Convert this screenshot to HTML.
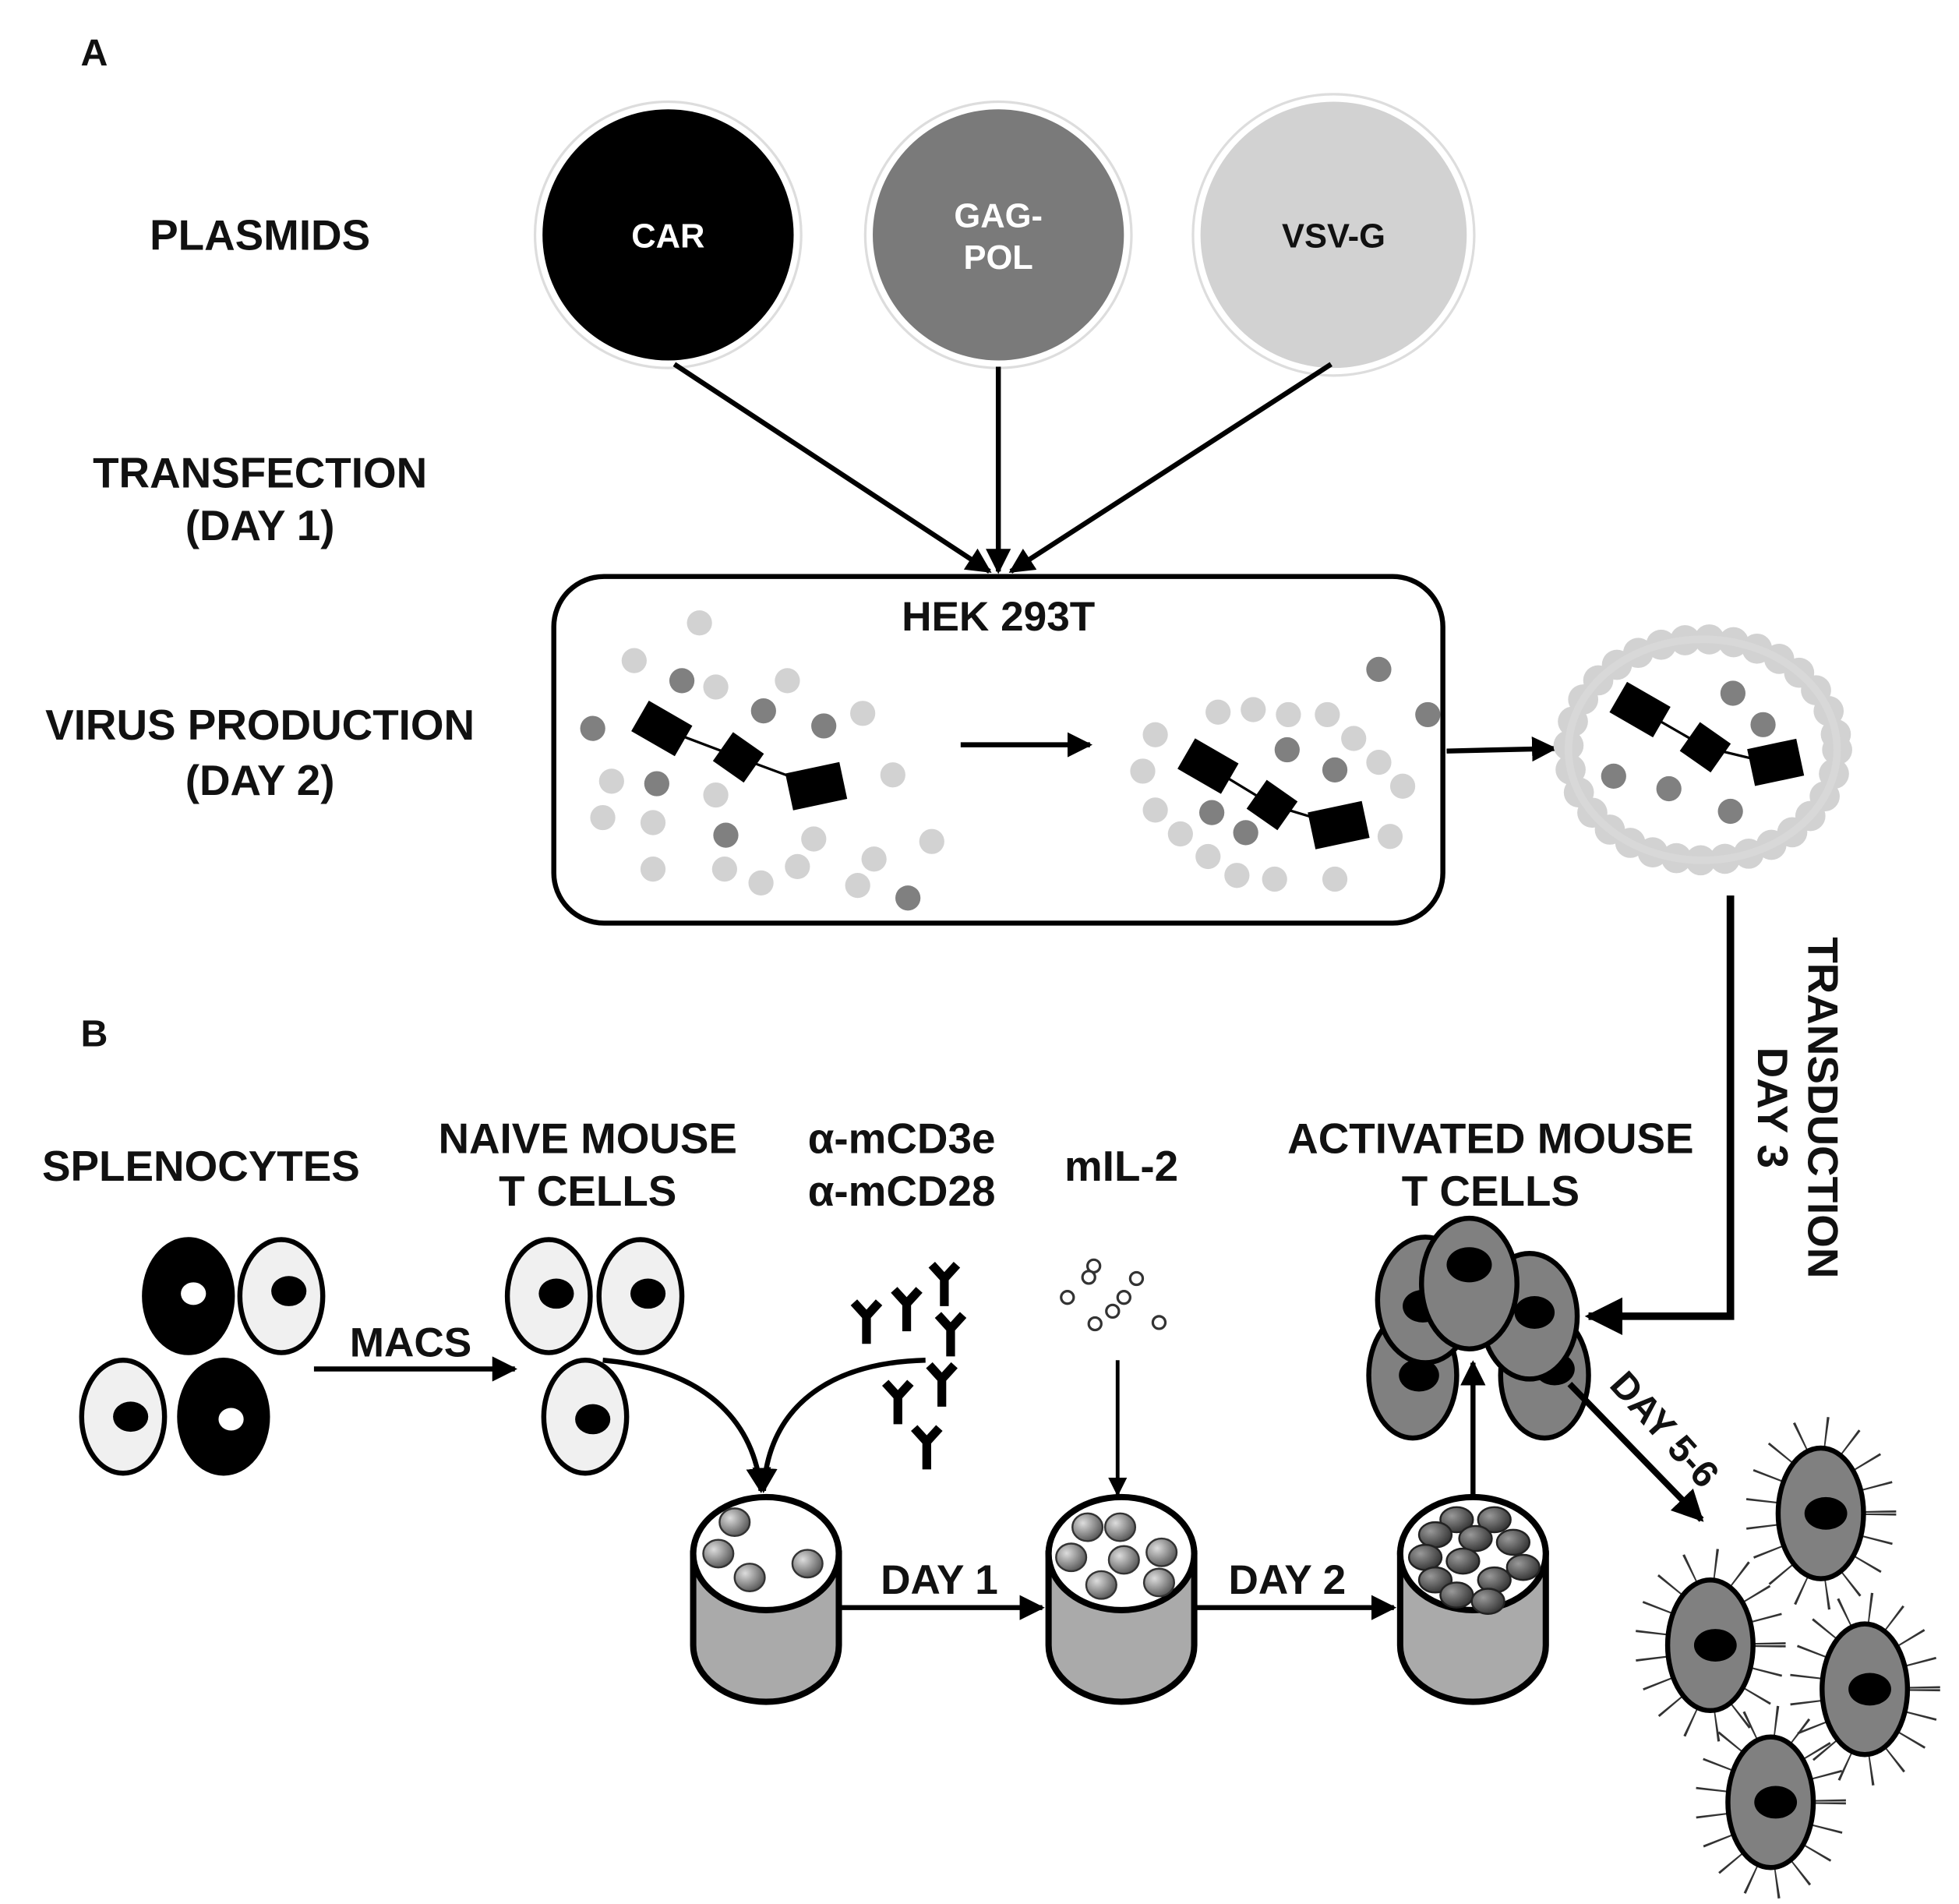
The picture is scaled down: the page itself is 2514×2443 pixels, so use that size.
<!DOCTYPE html>
<html><head><meta charset="utf-8"><style>
html,body{margin:0;padding:0;background:#fff}
svg{display:block}
text{font-family:"Liberation Sans",Arial,sans-serif;font-weight:bold;fill:#111}
</style></head><body>
<svg width="2514" height="2443" viewBox="0 0 1560 1516" xmlns="http://www.w3.org/2000/svg">
<defs>
<marker id="ah" viewBox="0 0 10 10" refX="9" refY="5" markerWidth="5" markerHeight="5" orient="auto-start-reverse"><path d="M0,0 L10,5 L0,10 z" fill="#000"/></marker>
<radialGradient id="gb" cx="35%" cy="35%" r="70%"><stop offset="0" stop-color="#ddd"/><stop offset="1" stop-color="#555"/></radialGradient>
<radialGradient id="gd" cx="35%" cy="35%" r="70%"><stop offset="0" stop-color="#999"/><stop offset="1" stop-color="#333"/></radialGradient>
<g id="Y"><path d="M0,0 L0,22 M0,0 L-10,-11 M0,0 L10,-11" stroke="#000" stroke-width="7" fill="none"/></g>
<g id="tc"><ellipse cx="0" cy="0" rx="47" ry="64" fill="none" stroke="#333" stroke-width="26" stroke-dasharray="1.5 19"/><ellipse cx="0" cy="0" rx="34" ry="52" fill="#808080" stroke="#000" stroke-width="4"/><ellipse cx="4" cy="0" rx="17" ry="13" fill="#000"/></g>
</defs>

<text x="75" y="52" font-size="30" text-anchor="middle">A</text>
<g font-size="34" text-anchor="middle">
<text x="207" y="199">PLASMIDS</text>
<text x="207" y="388">TRANSFECTION</text>
<text x="207" y="430">(DAY 1)</text>
<text x="207" y="589">VIRUS PRODUCTION</text>
<text x="207" y="633">(DAY 2)</text>
</g>

<!-- plasmids -->
<circle cx="532" cy="187" r="106" fill="#fff" stroke="#ddd" stroke-width="2"/>
<circle cx="532" cy="187" r="100" fill="#000"/>
<text x="532" y="197" font-size="27" text-anchor="middle" style="fill:#fff">CAR</text>
<circle cx="795" cy="187" r="106" fill="#fff" stroke="#ddd" stroke-width="2"/>
<circle cx="795" cy="187" r="100" fill="#7a7a7a"/>
<text x="795" y="181" font-size="27" text-anchor="middle" style="fill:#fff">GAG-</text>
<text x="795" y="214" font-size="27" text-anchor="middle" style="fill:#fff">POL</text>
<circle cx="1062" cy="187" r="112" fill="#fff" stroke="#ddd" stroke-width="2"/>
<circle cx="1062" cy="187" r="106" fill="#d2d2d2"/>
<text x="1062" y="197" font-size="27" text-anchor="middle">VSV-G</text>

<g stroke="#000" stroke-width="4" fill="none">
<line x1="537" y1="290" x2="788" y2="455" marker-end="url(#ah)"/>
<line x1="795" y1="292" x2="795" y2="455" marker-end="url(#ah)"/>
<line x1="1060" y1="290" x2="805" y2="455" marker-end="url(#ah)"/>
</g>

<rect x="441" y="459" width="708" height="276" rx="40" fill="#fff" stroke="#000" stroke-width="4"/>
<text x="795" y="502" font-size="33" text-anchor="middle">HEK 293T</text>

<g fill="#d2d2d2">
<circle cx="557" cy="496" r="10"/><circle cx="505" cy="526" r="10"/><circle cx="570" cy="547" r="10"/><circle cx="627" cy="542" r="10"/><circle cx="687" cy="568" r="10"/><circle cx="487" cy="622" r="10"/><circle cx="570" cy="633" r="10"/><circle cx="711" cy="617" r="10"/><circle cx="480" cy="651" r="10"/><circle cx="520" cy="655" r="10"/><circle cx="648" cy="668" r="10"/><circle cx="742" cy="670" r="10"/><circle cx="520" cy="692" r="10"/><circle cx="577" cy="692" r="10"/><circle cx="606" cy="703" r="10"/><circle cx="635" cy="690" r="10"/><circle cx="696" cy="684" r="10"/><circle cx="683" cy="705" r="10"/>
<circle cx="970" cy="567" r="10"/><circle cx="998" cy="565" r="10"/><circle cx="1026" cy="569" r="10"/><circle cx="1057" cy="569" r="10"/><circle cx="920" cy="585" r="10"/><circle cx="1078" cy="588" r="10"/><circle cx="910" cy="614" r="10"/><circle cx="1098" cy="607" r="10"/><circle cx="1117" cy="626" r="10"/><circle cx="920" cy="645" r="10"/><circle cx="940" cy="664" r="10"/><circle cx="1107" cy="666" r="10"/><circle cx="962" cy="682" r="10"/><circle cx="985" cy="697" r="10"/><circle cx="1015" cy="700" r="10"/><circle cx="1063" cy="700" r="10"/>
</g>
<g fill="#808080">
<circle cx="543" cy="542" r="10"/><circle cx="472" cy="580" r="10"/><circle cx="608" cy="566" r="10"/><circle cx="656" cy="578" r="10"/><circle cx="523" cy="624" r="10"/><circle cx="578" cy="665" r="10"/><circle cx="723" cy="715" r="10"/>
<circle cx="1098" cy="533" r="10"/><circle cx="1137" cy="569" r="10"/><circle cx="1025" cy="597" r="10"/><circle cx="1063" cy="613" r="10"/><circle cx="965" cy="647" r="10"/><circle cx="992" cy="663" r="10"/>
</g>

<g stroke="#000" stroke-width="2"><polyline points="527,580 588,603 650,626" fill="none"/><polyline points="962,610 1013,641 1066,657" fill="none"/><polyline points="1306,565 1358,595 1412,608" fill="none"/></g>
<g fill="#000">
<rect x="-20" y="-14" width="40" height="28" transform="translate(527,580) rotate(30)"/>
<rect x="-15" y="-14" width="30" height="28" transform="translate(588,603) rotate(35)"/>
<rect x="-22" y="-15" width="44" height="30" transform="translate(650,626) rotate(-12)"/>
<rect x="-20" y="-14" width="40" height="28" transform="translate(962,610) rotate(30)"/>
<rect x="-15" y="-14" width="30" height="28" transform="translate(1013,641) rotate(35)"/>
<rect x="-22" y="-15" width="44" height="30" transform="translate(1066,657) rotate(-12)"/>
<rect x="-20" y="-14" width="40" height="28" transform="translate(1306,565) rotate(30)"/>
<rect x="-15" y="-14" width="30" height="28" transform="translate(1358,595) rotate(35)"/>
<rect x="-20" y="-15" width="40" height="30" transform="translate(1414,607) rotate(-12)"/>
</g>

<line x1="765" y1="593" x2="868" y2="593" stroke="#000" stroke-width="4" marker-end="url(#ah)"/>
<line x1="1152" y1="598" x2="1238" y2="596" stroke="#000" stroke-width="4" marker-end="url(#ah)"/>

<ellipse cx="1356" cy="597" rx="107" ry="88" fill="none" stroke="#d2d2d2" stroke-width="24" stroke-dasharray="0 19.4" stroke-linecap="round"/>
<ellipse cx="1356" cy="597" rx="107" ry="88" fill="none" stroke="#d8d8d8" stroke-width="6"/>
<g fill="#808080"><circle cx="1380" cy="552" r="10"/><circle cx="1404" cy="577" r="10"/><circle cx="1285" cy="618" r="10"/><circle cx="1329" cy="628" r="10"/><circle cx="1378" cy="646" r="10"/></g>

<polyline points="1378,713 1378,1048 1265,1048" fill="none" stroke="#000" stroke-width="6" marker-end="url(#ah)"/>
<text transform="translate(1440,882) rotate(90)" font-size="34" text-anchor="middle">TRANSDUCTION</text>
<text transform="translate(1400,882) rotate(90)" font-size="34" text-anchor="middle">DAY 3</text>

<text x="75" y="833" font-size="30" text-anchor="middle">B</text>
<g font-size="34" text-anchor="middle">
<text x="160" y="940">SPLENOCYTES</text>
<text x="468" y="918">NAIVE MOUSE</text>
<text x="468" y="960">T CELLS</text>
<text x="718" y="918">α-mCD3e</text>
<text x="718" y="960">α-mCD28</text>
<text x="893" y="940">mIL-2</text>
<text x="1187" y="918">ACTIVATED MOUSE</text>
<text x="1187" y="960">T CELLS</text>
</g>

<g stroke="#000" stroke-width="4">
<ellipse cx="150" cy="1032" rx="35" ry="45" fill="#000"/><ellipse cx="154" cy="1030" rx="10" ry="9" fill="#fff" stroke="none"/>
<ellipse cx="224" cy="1032" rx="33" ry="45" fill="#f0f0f0"/><ellipse cx="230" cy="1028" rx="14" ry="12" fill="#000" stroke="none"/>
<ellipse cx="98" cy="1128" rx="33" ry="45" fill="#f0f0f0"/><ellipse cx="104" cy="1128" rx="14" ry="12" fill="#000" stroke="none"/>
<ellipse cx="178" cy="1128" rx="35" ry="45" fill="#000"/><ellipse cx="184" cy="1130" rx="10" ry="9" fill="#fff" stroke="none"/>
<ellipse cx="437" cy="1032" rx="33" ry="45" fill="#f0f0f0"/><ellipse cx="443" cy="1030" rx="14" ry="12" fill="#000" stroke="none"/>
<ellipse cx="510" cy="1032" rx="33" ry="45" fill="#f0f0f0"/><ellipse cx="516" cy="1030" rx="14" ry="12" fill="#000" stroke="none"/>
<ellipse cx="466" cy="1128" rx="33" ry="45" fill="#f0f0f0"/><ellipse cx="472" cy="1130" rx="14" ry="12" fill="#000" stroke="none"/>
</g>
<line x1="250" y1="1090" x2="410" y2="1090" stroke="#000" stroke-width="4" marker-end="url(#ah)"/>
<text x="327" y="1080" font-size="33" text-anchor="middle">MACS</text>

<path d="M480,1083 C560,1090 600,1130 606,1187" fill="none" stroke="#000" stroke-width="4" marker-end="url(#ah)"/>
<path d="M737,1083 C660,1085 612,1120 608,1187" fill="none" stroke="#000" stroke-width="4" marker-end="url(#ah)"/>

<use href="#Y" x="690" y="1048"/><use href="#Y" x="722" y="1038"/><use href="#Y" x="752" y="1018"/><use href="#Y" x="757" y="1058"/>
<use href="#Y" x="750" y="1098"/><use href="#Y" x="715" y="1112"/><use href="#Y" x="738" y="1148"/>

<g fill="#fff" stroke="#333" stroke-width="2">
<circle cx="871" cy="1008" r="5"/><circle cx="867" cy="1017" r="5"/><circle cx="905" cy="1018" r="5"/><circle cx="850" cy="1033" r="5"/><circle cx="895" cy="1033" r="5"/><circle cx="886" cy="1044" r="5"/><circle cx="872" cy="1054" r="5"/><circle cx="923" cy="1053" r="5"/>
</g>
<line x1="890" y1="1083" x2="890" y2="1190" stroke="#000" stroke-width="3" marker-end="url(#ah)"/>

<g stroke="#000" stroke-width="5">
<path d="M552,1237 L552,1310 A58,45 0 0 0 668,1310 L668,1237 Z" fill="#aaa"/>
<ellipse cx="610" cy="1237" rx="58" ry="45" fill="#fff"/>
<path d="M835,1237 L835,1310 A58,45 0 0 0 951,1310 L951,1237 Z" fill="#aaa"/>
<ellipse cx="893" cy="1237" rx="58" ry="45" fill="#fff"/>
<path d="M1115,1237 L1115,1310 A58,45 0 0 0 1231,1310 L1231,1237 Z" fill="#aaa"/>
<ellipse cx="1173" cy="1237" rx="58" ry="45" fill="#fff"/>
</g>
<g fill="url(#gb)" stroke="#333" stroke-width="1.5">
<ellipse cx="585" cy="1212" rx="12" ry="11"/><ellipse cx="572" cy="1237" rx="12" ry="11"/><ellipse cx="643" cy="1245" rx="12" ry="11"/><ellipse cx="597" cy="1256" rx="12" ry="11"/>
<ellipse cx="866" cy="1216" rx="12" ry="11"/><ellipse cx="892" cy="1216" rx="12" ry="11"/><ellipse cx="925" cy="1236" rx="12" ry="11"/><ellipse cx="853" cy="1240" rx="12" ry="11"/><ellipse cx="895" cy="1242" rx="12" ry="11"/><ellipse cx="923" cy="1260" rx="12" ry="11"/><ellipse cx="877" cy="1262" rx="12" ry="11"/>
</g>
<g fill="url(#gd)" stroke="#222" stroke-width="1.5">
<ellipse cx="1160" cy="1210" rx="13" ry="10"/><ellipse cx="1190" cy="1210" rx="13" ry="10"/><ellipse cx="1143" cy="1222" rx="13" ry="10"/><ellipse cx="1175" cy="1225" rx="13" ry="10"/><ellipse cx="1205" cy="1228" rx="13" ry="10"/>
<ellipse cx="1135" cy="1240" rx="13" ry="10"/><ellipse cx="1165" cy="1243" rx="13" ry="10"/><ellipse cx="1213" cy="1248" rx="13" ry="10"/><ellipse cx="1143" cy="1258" rx="13" ry="10"/><ellipse cx="1190" cy="1258" rx="13" ry="10"/><ellipse cx="1160" cy="1270" rx="13" ry="10"/><ellipse cx="1185" cy="1275" rx="13" ry="10"/>
</g>

<line x1="670" y1="1280" x2="830" y2="1280" stroke="#000" stroke-width="4" marker-end="url(#ah)"/>
<text x="748" y="1269" font-size="33" text-anchor="middle">DAY 1</text>
<line x1="952" y1="1280" x2="1110" y2="1280" stroke="#000" stroke-width="4" marker-end="url(#ah)"/>
<text x="1025" y="1269" font-size="33" text-anchor="middle">DAY 2</text>
<line x1="1173" y1="1190" x2="1173" y2="1085" stroke="#000" stroke-width="4" marker-end="url(#ah)"/>

<g stroke="#000" stroke-width="4" fill="#808080">
<ellipse cx="1125" cy="1095" rx="35" ry="50"/><ellipse cx="1130" cy="1095" rx="16" ry="13" fill="#000" stroke="none"/>
<ellipse cx="1230" cy="1095" rx="35" ry="50"/><ellipse cx="1238" cy="1090" rx="16" ry="13" fill="#000" stroke="none"/>
<ellipse cx="1135" cy="1035" rx="38" ry="50"/><ellipse cx="1133" cy="1040" rx="16" ry="13" fill="#000" stroke="none"/>
<ellipse cx="1218" cy="1048" rx="38" ry="50"/><ellipse cx="1222" cy="1045" rx="16" ry="13" fill="#000" stroke="none"/>
<ellipse cx="1170" cy="1022" rx="38" ry="52"/><ellipse cx="1170" cy="1007" rx="18" ry="14" fill="#000" stroke="none"/>
</g>

<line x1="1250" y1="1102" x2="1355" y2="1210" stroke="#000" stroke-width="5" marker-end="url(#ah)"/>
<text transform="translate(1318,1145) rotate(48)" font-size="30" text-anchor="middle">DAY 5-6</text>

<use href="#tc" x="1450" y="1205"/>
<use href="#tc" x="1362" y="1310"/>
<use href="#tc" x="1485" y="1345"/>
<use href="#tc" x="1410" y="1435"/>
</svg>
</body></html>
